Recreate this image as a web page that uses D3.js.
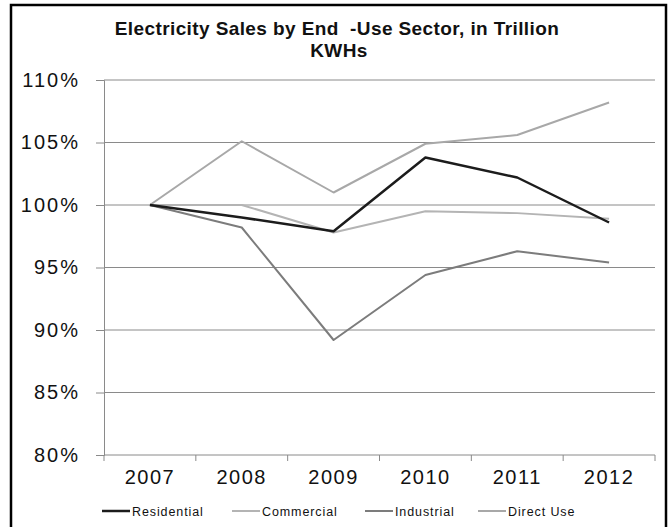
<!DOCTYPE html>
<html>
<head>
<meta charset="utf-8">
<script src="https://cdn.jsdelivr.net/npm/d3@7"></script>
<style>
  body { margin: 0; background: #fff; }
  svg text { font-family: "Liberation Sans", Arial, sans-serif; fill: #111; }
</style>
</head>
<body>
<div id="chart"></div>
<script>
const years = ["2007", "2008", "2009", "2010", "2011", "2012"];
const yTicks = [80, 85, 90, 95, 100, 105, 110];
const residential = [100, 99.0, 97.9, 103.8, 102.2, 98.6];
const commercial  = [100, 100.0, 97.8, 99.5, 99.35, 98.9];
const industrial  = [100, 98.2, 89.2, 94.4, 96.3, 95.4];
const directUse   = [100, 105.1, 101.0, 104.9, 105.6, 108.2];

const seriesList = [
  {name: "Residential", values: residential, color: "#1c1c1c", width: 2.5},
  {name: "Commercial",  values: commercial,  color: "#b4b4b4", width: 2},
  {name: "Industrial",  values: industrial,  color: "#7c7c7c", width: 2},
  {name: "Direct Use",  values: directUse,   color: "#a8a8a8", width: 2}
];

const width = 669, height = 527;
const svg = d3.select("#chart").append("svg")
  .attr("width", width).attr("height", height);

// outer frame
svg.append("rect")
  .attr("x", 11).attr("y", 5)
  .attr("width", 655).attr("height", 540)
  .attr("fill", "none").attr("stroke", "#000").attr("stroke-width", 2.5);

// title
const title = svg.append("text")
  .attr("text-anchor", "middle")
  .style("white-space", "pre")
  .style("font-size", "19px").style("font-weight", "bold")
  .style("letter-spacing", "0.4px");
title.append("tspan").attr("x", 337).attr("y", 35).text("Electricity Sales by End  -Use Sector, in Trillion");
title.append("tspan").attr("x", 339).attr("y", 57).text("KWHs");

const x = d3.scaleBand().domain(years).range([104, 655]);
const y = d3.scaleLinear().domain([80, 110]).range([455, 80]);

// gridlines
svg.append("g").selectAll("line")
  .data(yTicks.filter(t => t > 80))
  .join("line")
  .attr("x1", 104).attr("x2", 655)
  .attr("y1", d => y(d)).attr("y2", d => y(d))
  .attr("stroke", "#8a8a8a").attr("stroke-width", 1);

// y axis
const yAxis = svg.append("g")
  .attr("transform", "translate(104,0)")
  .call(d3.axisLeft(y).tickValues(yTicks).tickSize(8).tickPadding(16).tickFormat(d => d + "%"));
yAxis.select(".domain").attr("stroke", "#8a8a8a");
yAxis.selectAll(".tick line").attr("stroke", "#8a8a8a");
yAxis.selectAll("text").style("font-size", "20px").style("letter-spacing", "2px").attr("fill", "#111");

// x axis
const xAxis = svg.append("g")
  .attr("transform", "translate(0,455)")
  .call(d3.axisBottom(x).tickSize(0).tickPadding(15));
xAxis.select(".domain").attr("stroke", "#8a8a8a").attr("d", "M104,0H655");
xAxis.selectAll("text").style("font-size", "20px").style("letter-spacing", "1.5px").attr("fill", "#111");
// category boundary ticks
svg.append("g").selectAll("line")
  .data(years.concat(["end"]))
  .join("line")
  .attr("x1", (d, i) => i < years.length ? x(d) : x.range()[1])
  .attr("x2", (d, i) => i < years.length ? x(d) : x.range()[1])
  .attr("y1", 455).attr("y2", 461)
  .attr("stroke", "#8a8a8a");

// series lines
const line = d3.line()
  .x((d, i) => x(years[i]) + x.bandwidth() / 2)
  .y(d => y(d));

svg.append("g").selectAll("path")
  .data([seriesList[1], seriesList[3], seriesList[2], seriesList[0]])
  .join("path")
  .attr("d", d => line(d.values))
  .attr("fill", "none")
  .attr("stroke", d => d.color)
  .attr("stroke-width", d => d.width)
  .attr("stroke-linejoin", "round");

// legend
const legendX = [102, 232, 365, 478];
const legend = svg.append("g").selectAll("g")
  .data(seriesList)
  .join("g")
  .attr("transform", (d, i) => `translate(${legendX[i]},511)`);
legend.append("line")
  .attr("x1", 0).attr("x2", 28).attr("y1", 0).attr("y2", 0)
  .attr("stroke", d => d.color).attr("stroke-width", d => d.width);
legend.append("text")
  .attr("x", 30).attr("y", 4.5)
  .style("font-size", "12.5px").style("letter-spacing", "0.9px")
  .text(d => d.name);
</script>
</body>
</html>
